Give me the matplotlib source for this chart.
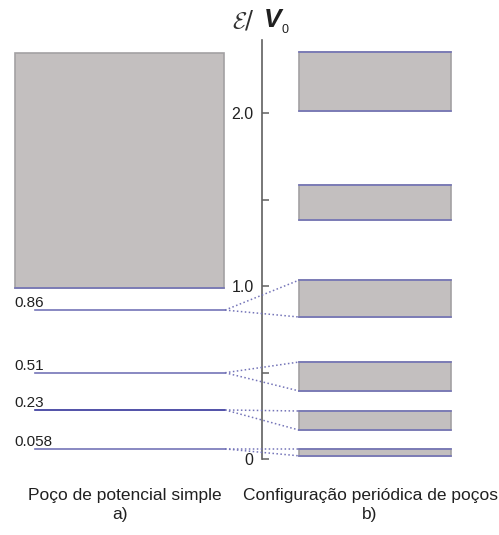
import matplotlib
matplotlib.use("Agg")
import matplotlib.pyplot as plt
from matplotlib.patches import Rectangle

# ---- data ----
level_values = [0.862, 0.50, 0.285, 0.060]          # single-well levels (position)
level_labels = ["0.86", "0.51", "0.23", "0.058"]
band_bottoms = [0.02, 0.169, 0.395, 0.822, 1.383, 2.012]
band_tops    = [0.06, 0.279, 0.562, 1.035, 1.586, 2.353]
well_continuum = (0.99, 2.347)                      # continuum box of single well
major_ticks = [0, 1.0, 2.0]
major_labels = ["0", "1.0", "2.0"]
minor_ticks = [0.5, 1.5]
caption_a = "Poço de potencial simple"
caption_b = "Configuração periódica de poços"

FILL = "#c3bfbf"
EDGE = "#a3a1a3"
BLUE = "#7474b8"
DARK = "#34349a"

fig = plt.figure(figsize=(4.99, 5.35), dpi=100)
ax = fig.add_axes([0, 0, 1, 1])
ax.set_xlim(0, 499)
ax.set_ylim(-0.4373, 2.6533)

for s in ["top", "right", "bottom"]:
    ax.spines[s].set_visible(False)
ax.spines["left"].set_position(("data", 262))
ax.spines["left"].set_bounds(0, 2.42)
ax.spines["left"].set_color("#606060")
ax.spines["left"].set_linewidth(1.2)
ax.set_xticks([])
ax.set_yticks(major_ticks)
ax.set_yticklabels(major_labels, fontsize=11.5, family="Liberation Sans", color="#202020")
ax.set_yticks(minor_ticks, minor=True)
ax.tick_params(axis="y", which="both", direction="in", length=5, width=1.1,
               color="#606060", pad=6)

# single well continuum box
x0, x1 = 15, 224
ax.add_patch(Rectangle((x0, well_continuum[0]), x1 - x0, well_continuum[1] - well_continuum[0],
                       facecolor=FILL, edgecolor=EDGE, lw=1.2, zorder=2))
ax.plot([x0, x1], [well_continuum[0]] * 2, color=BLUE, lw=1.2, zorder=3)

# single well levels
lx0, lx1 = 35, 225
for i, (v, lab) in enumerate(zip(level_values, level_labels)):
    col = DARK if lab == "0.23" else BLUE
    ax.plot([lx0, lx1], [v, v], color=col, lw=1.2, zorder=3)
    ax.text(14, v + 0.0, lab, ha="left", va="bottom", fontsize=11,
            family="Liberation Sans", color="#202020")

# bands of periodic wells
bx0, bx1 = 299, 451
for b, t in zip(band_bottoms, band_tops):
    ax.add_patch(Rectangle((bx0, b), bx1 - bx0, t - b, facecolor=FILL,
                           edgecolor=EDGE, lw=1.2, zorder=2))
    ax.plot([bx0, bx1], [b, b], color=BLUE, lw=1.2, zorder=3)
    ax.plot([bx0, bx1], [t, t], color=BLUE, lw=1.2, zorder=3)

# dotted connectors: level i -> band i (lowest first)
order = sorted(range(len(level_values)), key=lambda k: level_values[k])
for rank, k in enumerate(order):
    v = level_values[k]
    for e in (band_bottoms[rank], band_tops[rank]):
        ax.plot([lx1, bx0], [v, e], color=BLUE, lw=1.1, ls=(0, (1, 1.6)), zorder=3)

# axis title
ax.text(232, 2.535, r"$\mathcal{E}$/", ha="left", va="center", fontsize=17,
        math_fontfamily="cm", color="#303030")
ax.text(264, 2.535, "V", ha="left", va="center", fontsize=19, fontstyle="italic",
        fontweight="bold", family="Liberation Sans", color="#202020")
ax.text(282, 2.48, "0", ha="left", va="center", fontsize=9,
        family="Liberation Sans", color="#202020")

# captions
ax.text(125, -0.208, caption_a, ha="center", va="center", fontsize=12.5,
        family="Liberation Sans", color="#202020")
ax.text(120, -0.318, "a)", ha="center", va="center", fontsize=12.5,
        family="Liberation Sans", color="#202020")
ax.text(371, -0.208, caption_b, ha="center", va="center", fontsize=12.5,
        family="Liberation Sans", color="#202020")
ax.text(370, -0.318, "b)", ha="center", va="center", fontsize=12.5,
        family="Liberation Sans", color="#202020")

fig.savefig("out.png", dpi=100)
